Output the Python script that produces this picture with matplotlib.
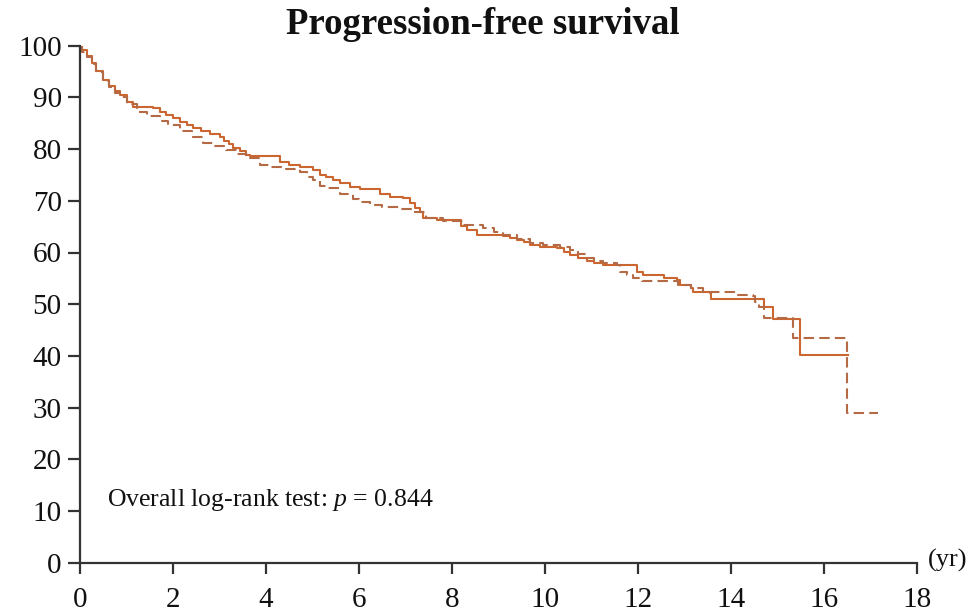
import matplotlib
matplotlib.use("Agg")
import matplotlib.pyplot as plt

# ---- data ----
solid_t = [0, 0.05, 0.15, 0.25, 0.35, 0.5, 0.62, 0.75, 0.86, 1.0, 1.15, 1.58, 1.72, 1.85,
           2.0, 2.15, 2.3, 2.44, 2.6, 2.8, 3.01, 3.1, 3.2, 3.3, 3.45, 3.58, 3.66, 4.12, 4.3,
           4.5, 4.73, 5.02, 5.16, 5.3, 5.45, 5.6, 5.8, 6.02, 6.31, 6.45, 6.67, 6.95, 7.1,
           7.2, 7.31, 7.38, 7.67, 8.1, 8.2, 8.32, 8.53, 9.1, 9.25, 9.39, 9.55, 9.68, 9.9,
           10.25, 10.4, 10.54, 10.7, 10.9, 11.05, 11.25, 11.76, 11.97, 12.11, 12.47, 12.55,
           12.83, 12.9, 13.15, 13.19, 13.55, 13.58, 14.7, 14.91, 15.48, 16.52]
solid_s = [100, 99.2, 98.0, 96.6, 95.2, 93.4, 92.2, 91.2, 90.4, 89.2, 88.2, 87.9, 87.2, 86.6,
           86.1, 85.3, 84.7, 84.0, 83.5, 83.0, 82.4, 81.6, 80.9, 80.2, 79.6, 78.9, 78.7, 78.7, 77.6,
           77.0, 76.5, 76.0, 75.0, 74.7, 74.0, 73.4, 72.7, 72.2, 72.2, 71.4, 70.8, 70.5, 69.5,
           68.7, 67.9, 66.6, 66.2, 66.2, 65.2, 64.4, 63.4, 63.2, 62.8, 62.4, 62.0, 61.5, 61.1,
           60.8, 60.1, 59.5, 59.0, 58.4, 58.0, 57.6, 57.6, 56.3, 55.6, 55.6, 55.0,
           54.7, 53.7, 53.1, 52.4, 52.1, 51.1, 49.5, 47.1, 40.2, 40.2]

dashed_t = [0, 0.05, 0.15, 0.25, 0.35, 0.5, 0.62, 0.75, 0.86, 1.0, 1.22, 1.45, 1.72, 1.9,
            2.15, 2.4, 2.65, 2.87, 3.15, 3.35, 3.58, 3.87, 4.1, 4.44, 4.73, 4.88, 5.02, 5.16,
            5.3, 5.59, 5.88, 6.0, 6.24, 6.5, 6.9, 7.17, 7.45, 7.8, 8.24, 8.67, 8.9, 9.1, 9.39,
            9.68, 9.95, 10.32, 10.54, 10.7, 10.9, 11.05, 11.25, 11.54, 11.61, 11.76, 11.9,
            12.08, 12.76, 12.87, 13.15, 13.4, 14.16, 14.48, 14.52, 14.6, 14.7, 15.34, 16.49, 17.17]
dashed_s = [100, 98.8, 97.8, 96.4, 95.0, 93.2, 92.0, 90.9, 90.0, 88.8, 87.2, 86.4, 85.5, 84.6,
            83.5, 82.3, 81.1, 80.6, 79.8, 79.0, 78.2, 77.0, 76.5, 76.1, 75.6, 74.7, 74.0, 72.9,
            72.5, 71.4, 70.4, 69.8, 69.2, 68.8, 68.5, 67.9, 66.6, 66.0, 65.3, 64.7, 64.0, 63.4, 62.7,
            61.8, 61.4, 61.1, 60.5, 59.8, 58.9, 58.3, 57.9, 57.6, 56.3, 55.6, 55.0,
            54.4, 54.4, 53.7, 53.1, 52.4, 51.8, 51.5, 50.5, 49.5, 47.3, 43.4, 28.9, 28.9]

x_ticks = [0, 2, 4, 6, 8, 10, 12, 14, 16, 18]
y_ticks = [0, 10, 20, 30, 40, 50, 60, 70, 80, 90, 100]
title = "Progression-free survival"
annotation = r"Overall log-rank test: $p$ = 0.844"
x_unit = "(yr)"

# ---- style ----
plt.rcParams['font.family'] = ['Liberation Serif', 'DejaVu Serif']
plt.rcParams['mathtext.fontset'] = 'custom'
plt.rcParams['mathtext.it'] = 'Liberation Serif:italic'
plt.rcParams['mathtext.rm'] = 'Liberation Serif'

fig = plt.figure(figsize=(9.73, 6.11), dpi=100)
ax = fig.add_axes([80 / 973, 48.3 / 611, 837 / 973, 517 / 611])

ax.step(solid_t, solid_s, where='post', color='#cc6630', lw=1.5)
ax.step(dashed_t, dashed_s, where='post', color='#b46a44', lw=1.5, linestyle=(0, (5, 2.5)))

ax.set_xlim(0, 18)
ax.set_ylim(0, 100)
ax.set_xticks(x_ticks)
ax.set_yticks(y_ticks)
ax.spines['top'].set_visible(False)
ax.spines['right'].set_visible(False)
for s in ('left', 'bottom'):
    ax.spines[s].set_color('#333333')
    ax.spines[s].set_linewidth(1.6)
ax.tick_params(axis='both', colors='#333333', width=1.6, labelcolor='#111111', labelsize=21)
ax.tick_params(axis='x', length=7.7, pad=9.5)
ax.tick_params(axis='y', length=8.6, pad=4.5)

ax.text(0.58, 11.0, annotation, fontsize=18.5, color='#111111', va='baseline', ha='left')
ax.text(1.013, 0.005, x_unit, transform=ax.transAxes, fontsize=19, color='#111111',
        va='center', ha='left', clip_on=False)
fig.text(483 / 973, 1 - 24 / 611, title, fontsize=26.5, fontweight='bold', ha='center',
         va='center', color='#111111')

fig.savefig('out.png', dpi=100)
